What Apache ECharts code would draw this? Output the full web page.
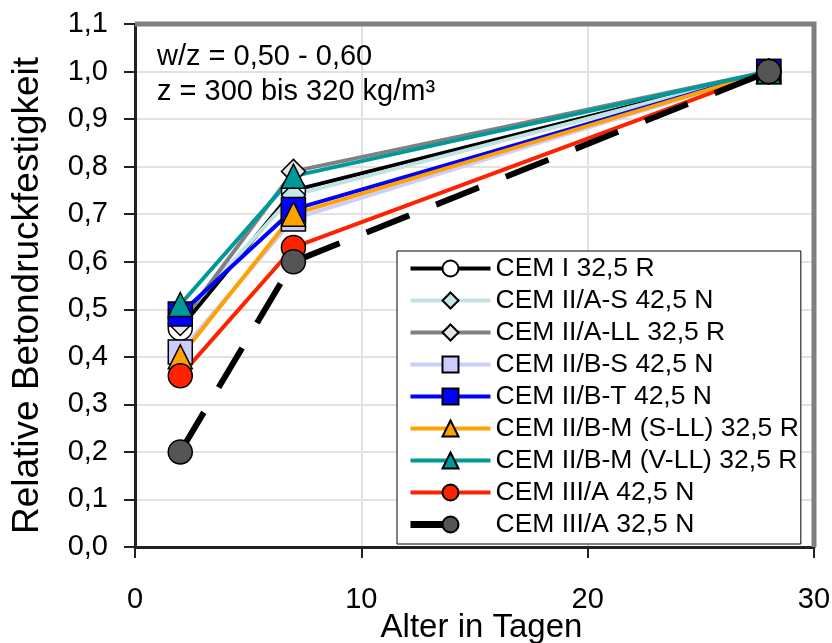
<!DOCTYPE html>
<html>
<head>
<meta charset="utf-8">
<script src="https://cdn.jsdelivr.net/npm/echarts@6/dist/echarts.min.js"></script>
<style>
  html, body { margin: 0; padding: 0; background: #ffffff; }
  #chart { width: 832px; height: 643px; }
</style>
</head>
<body>
<div id="chart"></div>
<script>
// Age of the concrete in days
const days = [2, 7, 28];

// Relative compressive strength (fraction of the 28-day value)
const cemI_325R       = [0.46, 0.75, 1.0];
const cemIIAS_425N    = [0.48, 0.74, 1.0];
const cemIIALL_325R   = [0.47, 0.79, 1.0];
const cemIIBS_425N    = [0.41, 0.69, 1.0];
const cemIIBT_425N    = [0.49, 0.71, 1.0];
const cemIIBMSLL_325R = [0.40, 0.70, 1.0];
const cemIIBMVLL_325R = [0.51, 0.78, 1.0];
const cemIIIA_425N    = [0.36, 0.63, 1.0];
const cemIIIA_325N    = [0.20, 0.60, 1.0];

const seriesNames = [
  'CEM I 32,5 R',
  'CEM II/A-S 42,5 N',
  'CEM II/A-LL 32,5 R',
  'CEM II/B-S 42,5 N',
  'CEM II/B-T 42,5 N',
  'CEM II/B-M (S-LL) 32,5 R',
  'CEM II/B-M (V-LL) 32,5 R',
  'CEM III/A 42,5 N',
  'CEM III/A 32,5 N'
];

const xTickLabels = ['0', '10', '20', '30'];
const yTickLabels = ['0,0', '0,1', '0,2', '0,3', '0,4', '0,5', '0,6', '0,7', '0,8', '0,9', '1,0', '1,1'];
const noteLines = ['w/z = 0,50 - 0,60', 'z = 300 bis 320 kg/m³'];

const X_MIN = 0, X_MAX = 30, Y_MIN = 0, Y_MAX = 1.1;

const FONT = '"Liberation Sans", Arial, Helvetica, sans-serif';
const DASH = [46, 29];

function line(name, values, lineColor, symbol, fill, extra) {
  const s = {
    name: name,
    type: 'line',
    data: days.map((d, i) => [d, values[i]]),
    symbol: symbol,
    symbolSize: 24,
    showAllSymbol: true,
    animation: false,
    lineStyle: { color: lineColor, width: 4 },
    itemStyle: { color: fill, borderColor: '#000000', borderWidth: 1.5 },
    emphasis: { disabled: true }
  };
  if (extra) Object.assign(s.lineStyle, extra);
  return s;
}

const series = [
  line(seriesNames[0], cemI_325R, '#000000', 'circle', '#ffffff'),
  line(seriesNames[1], cemIIAS_425N, '#bfe3e3', 'diamond', '#c4e6e6'),
  line(seriesNames[2], cemIIALL_325R, '#808080', 'diamond', '#e6e6e6'),
  line(seriesNames[3], cemIIBS_425N, '#ccccff', 'rect', '#ccccff'),
  line(seriesNames[4], cemIIBT_425N, '#0000ff', 'rect', '#0000ff'),
  line(seriesNames[5], cemIIBMSLL_325R, '#ffa200', 'triangle', '#ffa200'),
  line(seriesNames[6], cemIIBMVLL_325R, '#009999', 'triangle', '#009999'),
  line(seriesNames[7], cemIIIA_425N, '#ff2200', 'circle', '#ff2200'),
  line(seriesNames[8], cemIIIA_325N, '#000000', 'circle', '#555555', { width: 6, type: DASH })
];

// Legend entries: the sample line carries the same colour and weight as the series
const legendData = series.map((s, i) => ({
  name: s.name,
  lineStyle: i === series.length - 1
    ? { color: '#000000', width: 7, type: [40, 200] }
    : { color: s.lineStyle.color, width: 4, type: 'solid' }
}));

const chart = echarts.init(document.getElementById('chart'), null, { renderer: 'canvas' });

chart.setOption({
  backgroundColor: '#ffffff',
  animation: false,
  textStyle: { fontFamily: FONT, color: '#000000' },
  grid: {
    left: 135, right: 18, top: 24, bottom: 96,
    outerBoundsMode: 'none'
  },
  xAxis: {
    type: 'value',
    min: X_MIN, max: X_MAX, interval: 10,
    name: 'Alter in Tagen',
    nameLocation: 'middle',
    nameGap: 64,
    nameMoveOverlap: false,
    nameTextStyle: { fontSize: 33, color: '#000000', fontFamily: FONT, padding: [0, 0, 0, 14] },
    axisLine: { show: true, onZero: false, lineStyle: { color: '#222222', width: 3 } },
    axisTick: { show: true, inside: false, length: 11, lineStyle: { color: '#222222', width: 2 } },
    axisLabel: {
      fontSize: 29, color: '#000000', fontFamily: FONT, margin: 38,
      formatter: v => xTickLabels[Math.round(v / 10)]
    },
    splitLine: { show: true, lineStyle: { color: '#e2e2e2', width: 2 } },
    z: 3
  },
  yAxis: {
    type: 'value',
    min: Y_MIN, max: Y_MAX, interval: 0.1,
    name: 'Relative Betondruckfestigkeit',
    nameLocation: 'middle',
    nameGap: 89,
    nameMoveOverlap: false,
    nameTextStyle: { fontSize: 37, color: '#000000', fontFamily: FONT, padding: [0, 20, 0, 0] },
    axisLine: { show: true, onZero: false, lineStyle: { color: '#222222', width: 3 } },
    axisTick: { show: true, inside: false, length: 11, lineStyle: { color: '#222222', width: 2 } },
    axisLabel: {
      fontSize: 29, color: '#000000', fontFamily: FONT, margin: 27,
      formatter: v => yTickLabels[Math.round(v * 10)]
    },
    splitLine: { show: true, lineStyle: { color: '#e2e2e2', width: 2 } },
    z: 3
  },
  legend: {
    orient: 'vertical',
    left: 397,
    top: 251,
    padding: [4, 2, 6, 10],
    itemGap: 5,
    itemWidth: 80,
    itemHeight: 20,
    backgroundColor: '#ffffff',
    borderColor: '#000000',
    borderWidth: 1,
    borderRadius: 0,
    selectedMode: false,
    z: 10,
    textStyle: { fontSize: 26.5, color: '#000000', fontFamily: FONT, lineHeight: 26.5 },
    data: legendData
  },
  graphic: [
    {
      id: 'note1', type: 'text', left: 157, top: 42, z: 100,
      style: { text: noteLines[0], fill: '#000000', font: '29px ' + FONT }
    },
    {
      id: 'note2', type: 'text', left: 157, top: 77, z: 100,
      style: { text: noteLines[1], fill: '#000000', font: '29px ' + FONT }
    }
  ],
  series: series
});

// Grey plot-area frame along the top and right edges, placed through the axis scales
const topLeft = chart.convertToPixel({ gridIndex: 0 }, [X_MIN, Y_MAX]);
const bottomRight = chart.convertToPixel({ gridIndex: 0 }, [X_MAX, Y_MIN]);
chart.setOption({
  graphic: [
    {
      id: 'frame', type: 'polyline', z: 4, silent: true,
      shape: { points: [[topLeft[0], topLeft[1]], [bottomRight[0], topLeft[1]], [bottomRight[0], bottomRight[1]]] },
      style: { stroke: '#7f7f7f', lineWidth: 5, fill: null, lineJoin: 'miter' }
    }
  ]
});
</script>
</body>
</html>
